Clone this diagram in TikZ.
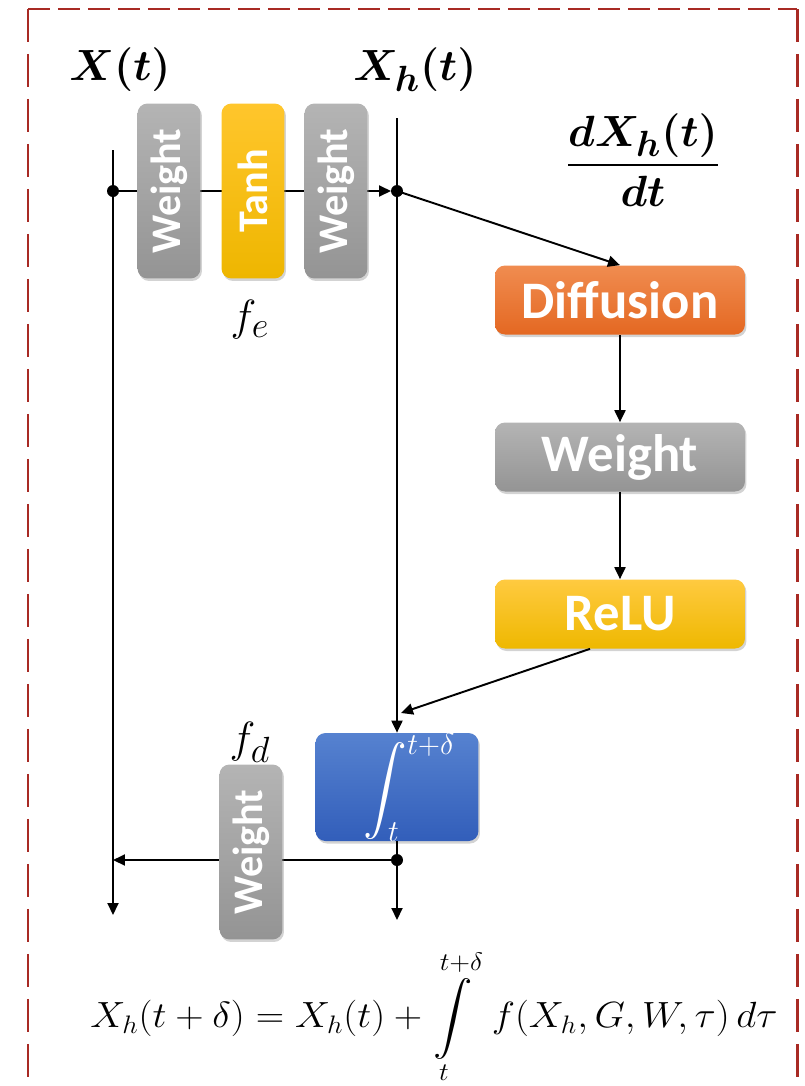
\documentclass[tikz,border=0pt]{standalone}
\usepackage{amsmath,bm}
\usepackage{fontspec}
\newfontfamily\boxfont{Carlito}
\usetikzlibrary{arrows.meta,shadows,positioning}

\definecolor{framered}{RGB}{168,42,36}
\definecolor{grayA}{RGB}{180,180,180}
\definecolor{grayB}{RGB}{148,148,148}
\definecolor{tanhA}{RGB}{255,198,44}
\definecolor{tanhB}{RGB}{238,182,0}
\definecolor{diffA}{RGB}{240,140,80}
\definecolor{diffB}{RGB}{228,104,34}
\definecolor{reluA}{RGB}{255,202,64}
\definecolor{reluB}{RGB}{238,184,0}
\definecolor{blueA}{RGB}{86,130,208}
\definecolor{blueB}{RGB}{50,94,186}

\tikzset{
  box/.style={rounded corners=0.2cm, text=white, inner sep=0pt,
    drop shadow={opacity=0.35, shadow xshift=0.03cm, shadow yshift=-0.05cm}},
  vbox/.style={box, rotate=90, minimum width=3.5cm, minimum height=1.26cm,
    font=\boxfont\fontsize{24}{26}\selectfont\bfseries},
  hbox/.style={box, minimum width=5cm, minimum height=1.38cm,
    font=\boxfont\fontsize{30}{32}\selectfont\bfseries},
  grayfill/.style={top color=grayA, bottom color=grayB},
  tanhfill/.style={top color=tanhA, bottom color=tanhB},
  difffill/.style={top color=diffA, bottom color=diffB},
  relufill/.style={top color=reluA, bottom color=reluB},
  intbox/.style={box, minimum width=3.26cm, minimum height=2.1cm,
    top color=blueA, bottom color=blueB, font=\fontsize{25}{27}\selectfont},
  wire/.style={line width=1.1pt},
  link/.style={wire, -{Triangle[length=0.24cm,width=0.22cm]}},
  dot/.style={circle, fill=black, inner sep=0pt, minimum size=0.24cm},
  biglabel/.style={font=\fontsize{30}{32}\selectfont},
  flabel/.style={font=\fontsize{31}{33}\selectfont},
}

\begin{document}
\begin{tikzpicture}[x=0.02cm, y=-0.02cm]

\useasboundingbox (0,0) rectangle (805,1086);

% Dashed frame, open at the bottom
\draw[framered, line width=1.7pt, dash pattern=on 0.44cm off 0.16cm] (28,9) -- (797,9);
\draw[framered, line width=1.7pt, dash pattern=on 0.66cm off 0.24cm] (28,9) -- (28,1100);
\draw[framered, line width=1.7pt, dash pattern=on 0.66cm off 0.24cm] (797,9) -- (797,1100);

% Points on the two vertical lines
\coordinate (xtop) at (113,150);
\coordinate (xin) at (113,191);
\coordinate (xret) at (113,860);
\coordinate (xbot) at (113,915);
\coordinate (htop) at (397,118);
\coordinate (hin) at (397,191);
\coordinate (hjoin) at (401,713);
\coordinate (hout) at (397,860);
\coordinate (hbot) at (397,920);

% Lines behind the boxes
\draw[wire] (xtop) -- (xin);
\draw[link] (xin) -- (xbot);
\draw[link, shorten >=0.12cm] (xin) -- (hin);
\draw[link] (hout) -- (xret);

% Encoder f_e
\node[vbox, grayfill] (wa) at (169,191) {Weight};
\node[vbox, tanhfill] (tanh) at (253,191) {Tanh};
\node[vbox, grayfill] (wb) at (336,191) {Weight};
\node[flabel] (fe) at (250,320) {$f_e$};

% Right column: derivative network
\node[biglabel] (dlab) at (643,160) {$\dfrac{\bm{dX_h(t)}}{\bm{dt}}$};
\node[hbox, difffill] (diff) at (620,300) {Diffusion};
\node[hbox, grayfill] (wmid) at (620,457) {Weight};
\node[hbox, relufill] (relu) at (620,614) {ReLU};

% Integration and decoder f_d
\node[intbox] (integ) at (397,787) {\color{white}\hspace*{0.5cm}$\displaystyle\int_t^{t+\delta}$};
\node[vbox, grayfill] (wd) at (251,852) {Weight};
\node[flabel] (fd) at (250,742) {$f_d$};

% Labels on top
\node[biglabel] (xlab) at (120,70) {$\bm{X(t)}$};
\node[biglabel] (hlab) at (415,70) {$\bm{X_h(t)}$};

% Connectors
\draw[link] (htop) -- (integ.north);
\draw[link] (hin) -- (diff.north);
\draw[link] (diff) -- (wmid);
\draw[link] (wmid) -- (relu);
\draw[link] ([xshift=-0.6cm]relu.south) -- (hjoin);
\draw[wire] (integ.south) -- (hout);
\draw[link] (hout) -- (hbot);

\node[dot] (dotxin) at (xin) {};
\node[dot] (dothin) at (hin) {};
\node[dot] (dothout) at (hout) {};

% Equation
\node[font=\fontsize{20.5}{22}\selectfont] (eq) at (434,1017)
  {\scalebox{1.08}[1]{$\displaystyle X_h(t+\delta) = X_h(t) + \int\limits_t^{t+\delta}\; f(X_h,G,W,\tau)\,d\tau$}};

\end{tikzpicture}
\end{document}
